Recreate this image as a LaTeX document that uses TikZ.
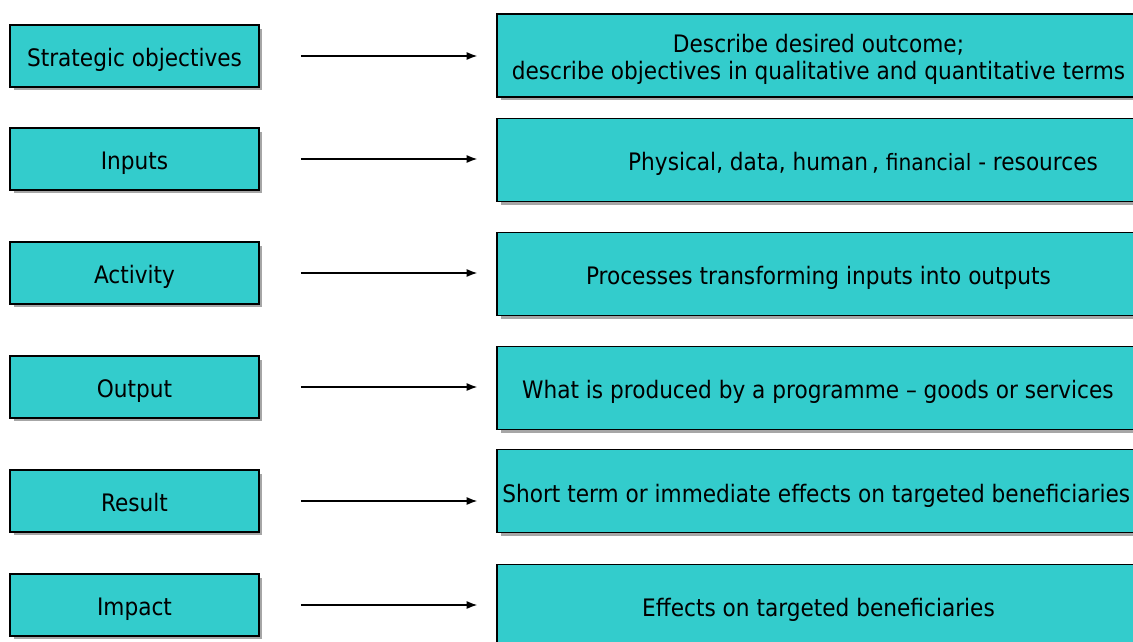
\documentclass[tikz,border=0pt]{standalone}
\usepackage{fontspec}
\setmainfont{DejaVu Sans Condensed}
\usepackage{xcolor}
\usepackage{tikz}
\usetikzlibrary{positioning, calc, shadows, arrows.meta}
\definecolor{turq}{HTML}{33CCCC}
\definecolor{shade}{HTML}{A6A6A6}

\begin{document}
\begin{tikzpicture}[x=0.02cm, y=-0.02cm, >={Latex[length=2.1mm, width=1.6mm]}, line width=0.6pt,
  every node/.style={font=\fontsize{13.7}{15.4}\selectfont, text height=11.4pt, text depth=0pt},
  stagebox/.style={draw=black, line width=1.1pt, fill=turq, rectangle, minimum width=4.98cm, minimum height=1.24cm,
    drop shadow={shadow xshift=0.07cm, shadow yshift=-0.07cm, fill=shade, opacity=1}},
  descbox/.style={draw=black, line width=1.1pt, fill=turq, rectangle, minimum width=12.86cm, minimum height=1.66cm,
    drop shadow={shadow xshift=0.07cm, shadow yshift=-0.07cm, fill=shade, opacity=1}},
  link/.style={->, shorten <=0.82cm, shorten >=0.38cm}]
\useasboundingbox (0,0) rectangle (1133,642);
\clip (0,0) rectangle (1133,642);

% left column: the six stages
\node[stagebox] (obj) at (134.5,56) {Strategic objectives};
\node[stagebox] (inp) at (134.5,159) {Inputs};
\node[stagebox] (act) at (134.5,273) {Activity};
\node[stagebox] (out) at (134.5,387) {Output};
\node[stagebox] (res) at (134.5,501) {Result};
\node[stagebox] (imp) at (134.5,605) {Impact};

% right column: what each stage means
\node[descbox] (objd) at (818.5,55.5) {};
\node[align=center, text height=, text depth=] (objt) at (818.5,59) {Describe desired outcome;\\describe objectives in qualitative and quantitative terms};
\node[descbox] (inpd) at (818.5,160) {};
\node (inpt) at (863,160) {Physical, data, human\,, {\fontsize{12.8}{15}\selectfont financial} - resources};
\node[descbox] (actd) at (818.5,274) {Processes transforming inputs into outputs};
\node[descbox] (outd) at (818.5,388) {};
\node (outt) at (818,388) {What is produced by a programme -- goods or services};
\node[descbox] (resd) at (818.5,491) {};
\node[anchor=west] (rest) at (496,492) {Short term or immediate effects on targeted beneficiaries};
\node[descbox] (impd) at (818.5,606) {Effects on targeted beneficiaries};

\draw[link] (obj.east) -- (obj.east -| objd.west);
\draw[link] (inp.east) -- (inp.east -| inpd.west);
\draw[link] (act.east) -- (act.east -| actd.west);
\draw[link] (out.east) -- (out.east -| outd.west);
\draw[link] (res.east) -- (res.east -| resd.west);
\draw[link] (imp.east) -- (imp.east -| impd.west);
\end{tikzpicture}
\end{document}
